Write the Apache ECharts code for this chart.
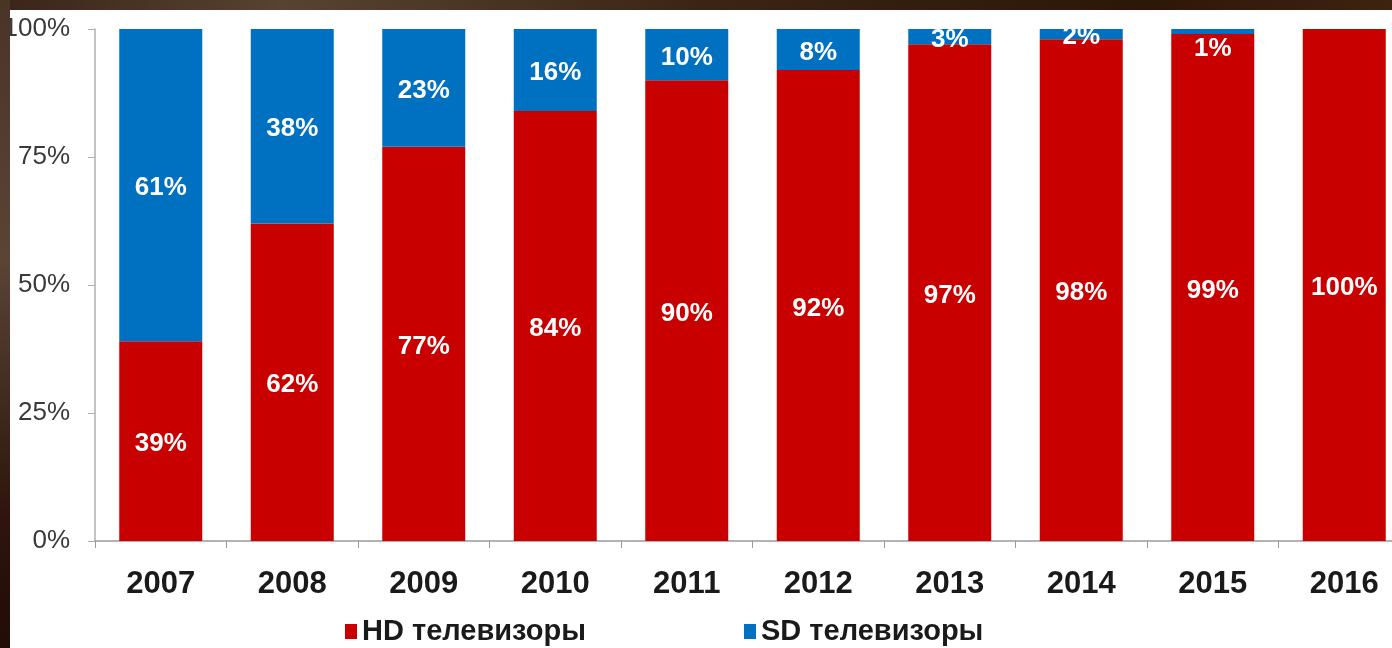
<!DOCTYPE html>
<html>
<head>
<meta charset="utf-8">
<script src="https://cdn.jsdelivr.net/npm/echarts@6/dist/echarts.min.js"></script>
<style>
html,body{margin:0;padding:0;background:#fff;overflow:hidden;width:1392px;height:648px;}
#chart{width:1420px;height:648px;}
</style>
</head>
<body>
<div id="chart"></div>
<script>
const years = ['2007','2008','2009','2010','2011','2012','2013','2014','2015','2016'];
const hdValues = [39, 62, 77, 84, 90, 92, 97, 98, 99, 100];
const sdValues = [61, 38, 23, 16, 10, 8, 3, 2, 1, 0];
const yTicks = [0, 25, 50, 75, 100];
const seriesNames = ['HD телевизоры', 'SD телевизоры'];

const FONT = '"Liberation Sans", Arial, sans-serif';
const RED = '#C80000';
const BLUE = '#0070C0';

const chart = echarts.init(document.getElementById('chart'), null, {renderer: 'canvas'});

const labelStyle = {
  show: true,
  position: 'inside',
  offset: [0, 3],
  color: '#ffffff',
  fontFamily: FONT,
  fontWeight: 'bold',
  fontSize: 26,
  formatter: p => (p.value > 0 ? p.value + '%' : '')
};

const sdData = sdValues.map((v, i) => {
  if (years[i] === '2015') return {value: v, label: {offset: [0, 17]}};
  return v;
});

const option = {
  backgroundColor: '#ffffff',
  animation: false,
  grid: {left: 95, top: 29, width: 1315, height: 512, containLabel: false},
  legend: {
    data: seriesNames,
    left: 340,
    top: 612,
    icon: 'rect',
    itemWidth: 12,
    itemHeight: 15,
    itemGap: 158,
    textStyle: {fontFamily: FONT, fontWeight: 'bold', fontSize: 29, color: '#1a1a1a'}
  },
  xAxis: {
    type: 'category',
    data: years,
    axisLine: {show: true, lineStyle: {color: '#9a9a9a', width: 1.5}},
    axisTick: {show: true, length: 7, lineStyle: {color: '#9a9a9a'}},
    axisLabel: {fontFamily: FONT, fontWeight: 'bold', fontSize: 31, color: '#1a1a1a', margin: 28}
  },
  yAxis: {
    type: 'value',
    min: 0,
    max: 100,
    interval: 25,
    axisLine: {show: true, lineStyle: {color: '#b0b0b0', width: 1.5}},
    axisTick: {show: true, length: 7, lineStyle: {color: '#b0b0b0'}},
    splitLine: {show: false},
    axisLabel: {
      fontFamily: FONT, fontSize: 26, color: '#3a3a3a', margin: 25,
      formatter: v => (yTicks.indexOf(v) >= 0 ? v + '%' : '')
    }
  },
  series: [
    {
      name: seriesNames[0],
      type: 'bar',
      stack: 'total',
      barWidth: 83,
      itemStyle: {color: RED},
      label: labelStyle,
      data: hdValues
    },
    {
      name: seriesNames[1],
      type: 'bar',
      stack: 'total',
      barWidth: 83,
      itemStyle: {color: BLUE},
      label: labelStyle,
      data: sdData
    }
  ],
  graphic: [
    {
      type: 'rect', z: 100, silent: true,
      shape: {x: 0, y: 0, width: 1420, height: 10},
      style: {fill: new echarts.graphic.LinearGradient(0, 0, 1, 0, [
        {offset: 0, color: '#3b2418'},
        {offset: 0.2, color: '#5a4232'},
        {offset: 0.5, color: '#3a2414'},
        {offset: 0.8, color: '#2e1608'},
        {offset: 1, color: '#3f2410'}
      ])}
    },
    {
      type: 'rect', z: 100, silent: true,
      shape: {x: 0, y: 0, width: 10, height: 648},
      style: {fill: new echarts.graphic.LinearGradient(0, 0, 0, 1, [
        {offset: 0, color: '#4a3428'},
        {offset: 0.4, color: '#5a4436'},
        {offset: 0.8, color: '#2e140c'},
        {offset: 1, color: '#220c06'}
      ])}
    }
  ]
};

chart.setOption(option);
</script>
</body>
</html>
